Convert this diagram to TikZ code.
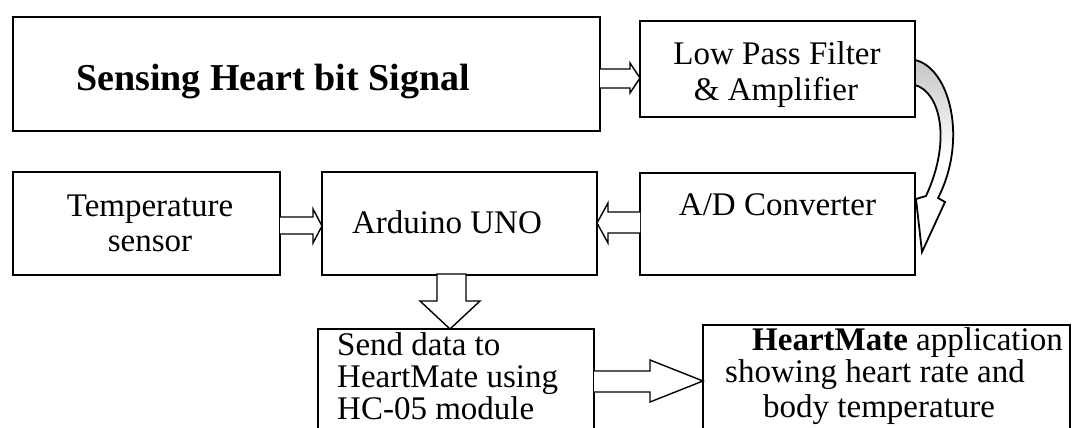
\documentclass[tikz,border=0pt]{standalone}
\usepackage{fontspec}
\setmainfont{Liberation Serif}
\begin{document}
\begin{tikzpicture}[x=1pt,y=-1pt,
  box/.style={draw, line width=1.8pt, inner sep=0pt, fill=white},
  txt/.style={inner sep=0pt, font=\fontsize{33}{35}\selectfont},
  barrow/.style={draw, line width=1.4pt, fill=white, line join=miter},
]
\useasboundingbox (0,0) rectangle (1074,428);
\fill[white] (0,0) rectangle (1074,428);
\begin{scope}
\clip (0,0) rectangle (1074,428);
% boxes
\node[box, minimum width=587pt, minimum height=114pt] (sense) at (306.5,74) {};
\node[box, minimum width=275pt, minimum height=96pt] (lpf) at (777.5,69) {};
\node[box, minimum width=267pt, minimum height=103pt] (temp) at (146.5,223.5) {};
\node[box, minimum width=275pt, minimum height=103pt] (ard) at (459.5,223.5) {};
\node[box, minimum width=275pt, minimum height=102pt] (adc) at (777.5,224) {};
\node[box, minimum width=276pt, minimum height=116pt] (send) at (456,387) {};
\node[box, minimum width=367pt, minimum height=120pt] (app) at (886.5,385) {};
% texts
\node[txt, anchor=base] (tsense) at (273,90) {\fontsize{38}{40}\selectfont\bfseries Sensing Heart bit Signal};
\node[txt, anchor=base] (tlpf1) at (777,65) {Low Pass Filter};
\node[txt, anchor=base] (tlpf2) at (776,100) {\& Amplifier};
\node[txt, anchor=base] (ttemp1) at (150,216) {Temperature};
\node[txt, anchor=base] (ttemp2) at (150,251) {sensor};
\node[txt, anchor=base] (tard) at (447,233) {Arduino UNO};
\node[txt, anchor=base] (tadc) at (777.5,215) {A/D Converter};
\node[txt, anchor=base west] (tsend1) at (337,355) {Send data to};
\node[txt, anchor=base west] (tsend2) at (337,387) {HeartMate using};
\node[txt, anchor=base west] (tapp1) at (752,350) {\textbf{HeartMate} application};
\node[txt, anchor=base west] (tsend3) at (337,419) {HC-05 module};
\node[txt, anchor=base west] (tapp2) at (725,382) {showing heart rate and};
\node[txt, anchor=base west] (tapp3) at (763,417) {body temperature};
% block arrows
\draw[barrow] (600,69) -- (630,69) -- (630,63) -- (640,78) -- (630,93) -- (630,88) -- (600,88);
\draw[barrow] (280,217) -- (313,217) -- (313,209) -- (322,226) -- (313,243) -- (313,234) -- (280,234);
\draw[barrow] (640,212) -- (608,212) -- (608,203) -- (597,223) -- (608,243) -- (608,233) -- (640,233);
\draw[barrow] (437,274) -- (437,301) -- (420,301) -- (450,329) -- (480,301) -- (466,301) -- (466,274) -- cycle;
\draw[barrow] (594,371) -- (650,371) -- (650,360) -- (703,381) -- (650,402) -- (650,392) -- (594,392);
% curved arrow from lpf to adc
\draw[line width=1.8pt, top color=gray!45, bottom color=white, middle color=white, line join=miter]
  (915,60) .. controls (950,68) and (968,140) .. (938,198)
  -- (945,202) -- (922,252) -- (916,199) -- (926,196)
  .. controls (952,140) and (940,92) .. (915,85) -- cycle;
\end{scope}
\end{tikzpicture}
\end{document}
